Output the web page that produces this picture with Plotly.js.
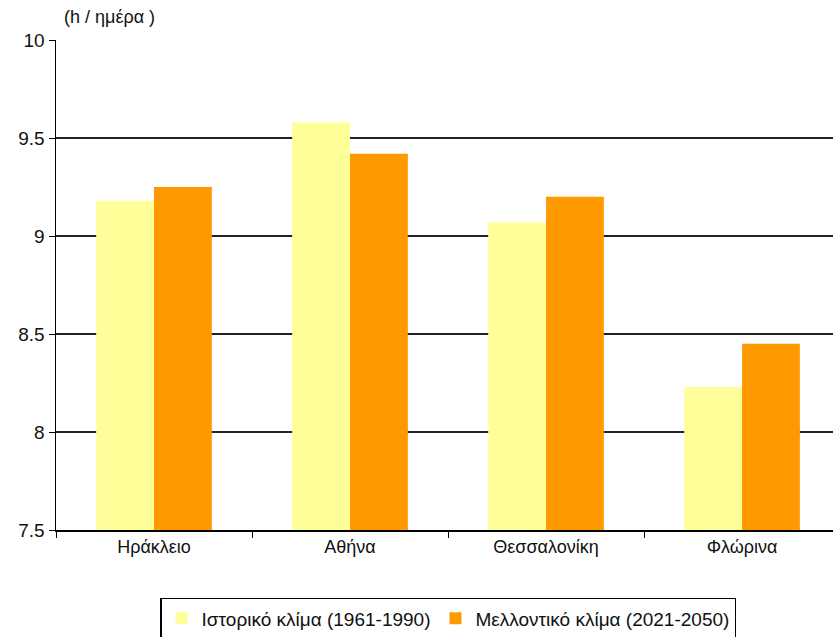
<!DOCTYPE html>
<html>
<head>
<meta charset="utf-8">
<script src="https://cdn.plot.ly/plotly-3.0.1.min.js"></script>
<style>
  html, body { margin: 0; padding: 0; background: #fff; }
  #chart { width: 833px; height: 637px; }
</style>
</head>
<body>
<div id="chart"></div>
<script>
// Daily sunshine hours per city: historical vs. future climate
const cities = ["Ηράκλειο", "Αθήνα", "Θεσσαλονίκη", "Φλώρινα"];
const historical = [9.18, 9.58, 9.07, 8.23];
const future = [9.25, 9.42, 9.20, 8.45];
const seriesNames = ["Ιστορικό κλίμα (1961-1990)", "Μελλοντικό κλίμα (2021-2050)"];
const yTicks = [7.5, 8, 8.5, 9, 9.5, 10];
const unitLabel = "(h / ημέρα )";

const font = "Liberation Sans, Arial, sans-serif";

const traces = [
  {
    type: "bar", name: seriesNames[0], x: cities, y: historical,
    marker: { color: "#FFFF99", line: { width: 0 } }
  },
  {
    type: "bar", name: seriesNames[1], x: cities, y: future,
    marker: { color: "#FF9900", line: { width: 0 } }
  }
];

const layout = {
  width: 833, height: 637,
  margin: { l: 56, r: 0, t: 40, b: 107 },
  paper_bgcolor: "#fff", plot_bgcolor: "#fff",
  font: { family: font, size: 18, color: "#000" },
  barmode: "group",
  bargap: 0.41, bargroupgap: 0,
  showlegend: true,
  xaxis: {
    type: "category",
    range: [-0.5, 3.464],
    tickson: "boundaries",
    ticks: "outside", ticklen: 6, tickwidth: 1, tickcolor: "#000",
    showline: true, linecolor: "#000", linewidth: 1.5,
    showgrid: false, zeroline: false,
    tickfont: { family: font, size: 18, color: "#111" }
  },
  yaxis: {
    range: [7.5, 10],
    tickvals: yTicks,
    ticktext: yTicks.map(String),
    ticks: "outside", ticklen: 6, tickwidth: 1, tickcolor: "#000",
    showline: true, linecolor: "#000", linewidth: 1.5,
    showgrid: true, gridcolor: "#222", gridwidth: 1.3,
    zeroline: false,
    tickfont: { family: font, size: 19, color: "#111" }
  },
  legend: {
    orientation: "h",
    xref: "paper", x: 0.505, xanchor: "center",
    yref: "container", y: 0.061, yanchor: "top",
    bordercolor: "#000", borderwidth: 1.2,
    bgcolor: "#fff",
    font: { family: font, size: 19, color: "#111" },
    itemwidth: 30
  },
  annotations: [{
    text: unitLabel, xref: "paper", yref: "paper",
    x: 0.008, y: 1.047, xanchor: "left", yanchor: "middle",
    showarrow: false, font: { family: font, size: 18, color: "#111" }
  }]
};

Plotly.newPlot("chart", traces, layout, { displayModeBar: false, staticPlot: true });
</script>
</body>
</html>
